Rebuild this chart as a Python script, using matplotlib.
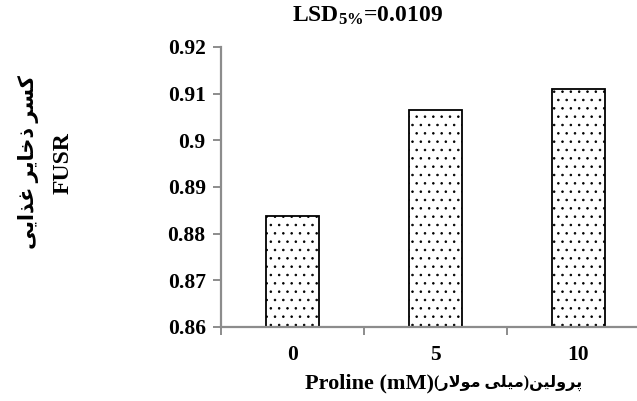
import matplotlib
matplotlib.use("Agg")
import matplotlib.pyplot as plt

# data
doses = ["0", "5", "10"]
fusr = [0.8838, 0.9066, 0.9111]
yticks = [0.86, 0.87, 0.88, 0.89, 0.90, 0.91, 0.92]
ytick_labels = ["0.86", "0.87", "0.88", "0.89", "0.9", "0.91", "0.92"]

# Persian strings written in shaped presentation forms, visual (left-to-right) order
ylab_fa = "\uFBFD\uFBFE\uFE8D\uFEAC\uFECF \uFEAE\uFBFE\uFE8E\uFEA7\uFEAB \uFEAE\uFEB4\uFB90"
xlab_fa_unit = "\uFEAD\uFEFB\uFEEE\uFEE3 \uFBFD\uFEE0\uFBFF\uFEE3"
xlab_fa_name = "\uFEE6\uFBFF\uFEDF\uFEED\uFEAE\uFB58"

plt.rcParams['font.family'] = ['Liberation Serif', 'DejaVu Sans']
plt.rcParams['font.weight'] = 'bold'
plt.rcParams['mathtext.fontset'] = 'custom'
plt.rcParams['mathtext.rm'] = 'Liberation Serif:bold'
plt.rcParams['mathtext.it'] = 'Liberation Serif:bold'
plt.rcParams['hatch.linewidth'] = 0.6

fig = plt.figure(figsize=(6.37, 4.01), dpi=100)
ax = fig.add_axes([221 / 637, 74 / 401, 429 / 637, 280 / 401])

x = list(range(len(doses)))
ax.bar(x, fusr, width=0.37, color='white', edgecolor='black',
       linewidth=1.3, hatch='..')

ax.set_xlim(-0.5, 2.5)
ax.set_ylim(0.86, 0.92)
ax.set_yticks(yticks)
ax.set_yticklabels(ytick_labels)
ax.set_xticks(x)
ax.set_xticklabels(doses)
ax.set_xticks([-0.5, 0.5, 1.5, 2.5], minor=True)

for s in ['top', 'right']:
    ax.spines[s].set_visible(False)
for s in ['left', 'bottom']:
    ax.spines[s].set_color('#8c8c8c')
    ax.spines[s].set_linewidth(1.6)

ax.tick_params(axis='y', direction='out', length=6, width=1.4, color='#8c8c8c',
               labelsize=15.5, pad=5)
ax.tick_params(axis='x', which='major', length=0, labelsize=15.5, pad=13)
ax.tick_params(axis='x', which='minor', direction='out', length=6, width=1.4,
               color='#8c8c8c')

fig.text(368 / 637, 1 - 16 / 401, r'LSD$_{5\%}$=0.0109', ha='center', va='center',
         fontsize=17, fontweight='bold')

fig.text(29 / 637, 1 - 162 / 401, ylab_fa, rotation=90, ha='center', va='center',
         fontsize=15, fontweight='bold')
fig.text(63 / 637, 1 - 163 / 401, 'FUSR', rotation=90, ha='center', va='center',
         fontsize=17, fontweight='bold')

# x label: latin part and persian part meet at x ~ 433 px
fig.text(434 / 637, 1 - 383 / 401, 'Proline (mM)', ha='right', va='center',
         fontsize=16, fontweight='bold')
fig.text(434 / 637, 1 - 383 / 401, '(' + xlab_fa_unit + ')' + xlab_fa_name,
         ha='left', va='center', fontsize=11.5, fontweight='bold')

fig.savefig('out.png', dpi=100)
